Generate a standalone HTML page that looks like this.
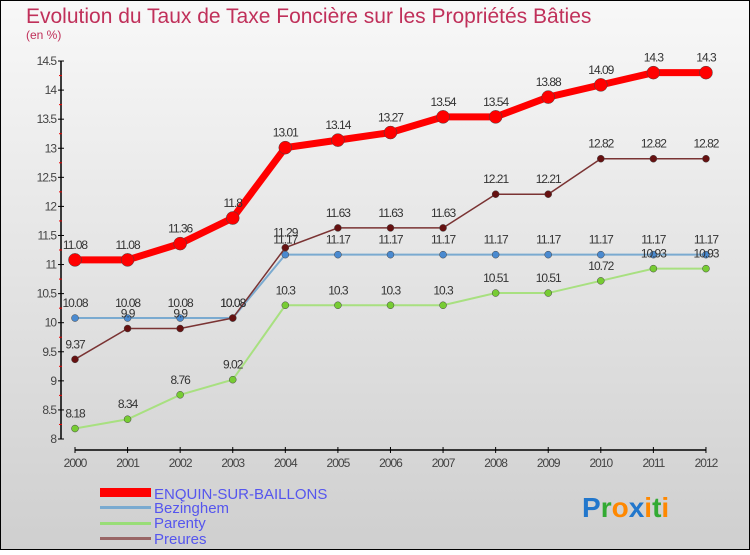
<!DOCTYPE html>
<html><head><meta charset="utf-8"><style>
body{margin:0;width:750px;height:550px;overflow:hidden;font-family:"Liberation Sans",sans-serif}
</style></head><body>
<svg width="750" height="550" xmlns="http://www.w3.org/2000/svg">
<defs><linearGradient id="bg" x1="0" y1="0" x2="0" y2="1"><stop offset="0" stop-color="#f8f8f8"/><stop offset="1" stop-color="#cfcfcf"/></linearGradient></defs>
<rect x="0.5" y="0.5" width="749" height="549" fill="url(#bg)" stroke="#000"/>
<text x="26" y="23" font-size="21" fill="#c0305a">Evolution du Taux de Taxe Foncière sur les Propriétés Bâties</text>
<text x="26" y="39" font-size="12" fill="#c0305a">(en %)</text>
<g id="axes"></g><g id="series"></g>
<g>
<rect x="100" y="488" width="51" height="9" fill="#f00"/>
<text x="154" y="499" font-size="15" fill="#5555ee">ENQUIN-SUR-BAILLONS</text>
<rect x="100" y="506" width="51" height="3" fill="#7aaad0"/>
<text x="154" y="513" font-size="15" fill="#5555ee">Bezinghem</text>
<rect x="100" y="522" width="51" height="3" fill="#99dd77"/>
<text x="154" y="528" font-size="15" fill="#5555ee">Parenty</text>
<rect x="100" y="537" width="51" height="3" fill="#996666"/>
<text x="154" y="544" font-size="15" fill="#5555ee">Preures</text>
</g>
<text x="582" y="517" font-size="28" font-weight="bold"><tspan fill="#2277cc">P</tspan><tspan fill="#33aa33">r</tspan><tspan fill="#ff8800">o</tspan><tspan fill="#2277cc">x</tspan><tspan fill="#ff8800">i</tspan><tspan fill="#33aa33">t</tspan><tspan fill="#ff8800">i</tspan></text>
</svg>
<script>
const years=[2000,2001,2002,2003,2004,2005,2006,2007,2008,2009,2010,2011,2012];
const enquin=[11.08,11.08,11.36,11.8,13.01,13.14,13.27,13.54,13.54,13.88,14.09,14.3,14.3];
const bezinghem=[10.08,10.08,10.08,10.08,11.17,11.17,11.17,11.17,11.17,11.17,11.17,11.17,11.17];
const parenty=[8.18,8.34,8.76,9.02,10.3,10.3,10.3,10.3,10.51,10.51,10.72,10.93,10.93];
const preures=[9.37,9.9,9.9,10.08,11.29,11.63,11.63,11.63,12.21,12.21,12.82,12.82,12.82];
const yTicks=[8,8.5,9,9.5,10,10.5,11,11.5,12,12.5,13,13.5,14,14.5];
const NS="http://www.w3.org/2000/svg";
const X=i=>75+i*52.58, Y=v=>439-(v-8)*58.15;
function mk(t,a,p){const e=document.createElementNS(NS,t);for(const k in a)e.setAttribute(k,a[k]);p.appendChild(e);return e;}
const ax=document.getElementById('axes');
let l=mk('line',{x1:61,y1:Y(14.5),x2:61,y2:Y(8),stroke:'#000','stroke-width':1.5},ax);


l=mk('line',{x1:75,y1:450,x2:706,y2:450,stroke:'#000','stroke-width':1.5},ax);


yTicks.forEach(v=>{mk('line',{x1:58,x2:64,y1:Y(v),y2:Y(v),stroke:'#000'},ax);
 if(v<14.5) mk('line',{x1:59,x2:62,y1:Y(v+0.25),y2:Y(v+0.25),stroke:'#e00'},ax);
 const t=mk('text',{x:56,y:Y(v)+4,'font-size':12,fill:'#444','text-anchor':'end','letter-spacing':'-1'},ax);t.textContent=v;
 
 });
years.forEach((y,i)=>{mk('line',{x1:X(i),x2:X(i),y1:447,y2:453,stroke:'#000'},ax);
 const t=mk('text',{x:X(i),y:467,'font-size':12,fill:'#444','text-anchor':'middle','letter-spacing':'-1'},ax);t.textContent=y;
 
 });
const sg=document.getElementById('series');
function draw(vals,color,w,r,mcol,name){
 const g=mk('g',{},sg);
 
 
 mk('polyline',{points:vals.map((v,i)=>X(i)+','+Y(v)).join(' '),fill:'none',stroke:color,'stroke-width':w},g);
 vals.forEach((v,i)=>{const c=mk('circle',{cx:X(i),cy:Y(v),r:r,fill:mcol,stroke:'#444','stroke-width':0.5},g);
  
  
  const t=mk('text',{x:X(i),y:Y(v)-11,'font-size':12,fill:'#333','text-anchor':'middle','letter-spacing':'-1'},g);t.textContent=v;
  
  });
}
draw(bezinghem,'#7aaad0',2,3.5,'#4a8ad0','bezinghem');
draw(parenty,'#a8e080',2,3.5,'#77cc33','parenty');
draw(preures,'#7a3333',1.5,3.5,'#661111','preures');
draw(enquin,'#f00',7,6.5,'#f00','enquin');
</script>
</body></html>
